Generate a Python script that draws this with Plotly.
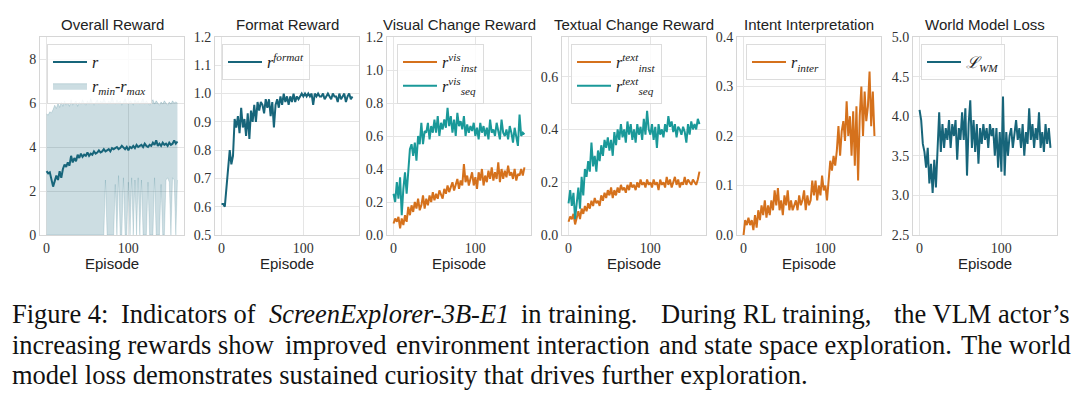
import plotly.graph_objects as go

# ---------------- data (episodes sampled every 2) ----------------
r_mean = [2.90, 2.80, 2.85, 2.50, 2.20, 2.45, 2.70, 2.50, 2.90, 2.60,
          3.00, 3.20, 3.10, 3.30, 3.15, 3.60, 3.30, 3.50, 3.35, 3.65,
          3.50, 3.70, 3.55, 3.65, 3.60, 3.75, 3.60, 3.70, 3.65, 3.80,
          3.70, 3.75, 3.85, 3.75, 3.80, 3.90, 3.80, 3.85, 3.90, 3.80,
          3.95, 3.90, 3.95, 4.00, 3.90, 3.95, 4.05, 3.95, 3.90, 4.00,
          3.85, 4.00, 3.95, 4.05, 3.95, 4.10, 4.00, 4.05, 4.10, 4.00,
          4.15, 4.05, 4.00, 4.10, 4.05, 4.20, 4.10, 4.30, 4.05, 4.15,
          4.05, 4.20, 4.10, 4.15, 4.05, 4.20, 4.10, 4.15, 4.30, 4.15,
          4.25]
r_max = [5.50, 5.45, 5.60, 5.55, 5.70, 5.90, 5.75, 6.00, 5.80, 6.05,
         5.85, 6.10, 5.90, 6.00, 5.85, 6.15, 5.90, 6.00, 6.10, 5.85,
         6.05, 5.95, 6.15, 6.00, 5.90, 6.10, 5.95, 6.20, 6.00, 5.90,
         6.05, 6.15, 5.95, 6.10, 6.00, 6.20, 6.05, 5.95, 6.10, 6.00,
         6.30, 6.05, 5.95, 6.15, 6.00, 6.10, 5.90, 6.05, 6.20, 6.00,
         5.95, 6.10, 6.05, 5.90, 6.15, 6.00, 6.10, 5.95, 6.05, 6.20,
         5.95, 6.10, 6.00, 5.90, 6.05, 6.15, 5.95, 6.10, 6.00, 5.90,
         6.05, 5.95, 6.10, 6.00, 5.90, 6.05, 5.95, 6.10, 6.00, 6.05,
         6.00]
r_min = [0, 0, 0, 0, 0, 0, 0, 0, 0, 0,
         0, 0, 0, 0, 0, 0, 0, 0, 0, 0,
         0, 0, 0, 0, 0, 0, 0, 0, 0, 0,
         0, 0, 0, 0, 0, 0, 2.5, 0, 0, 0,
         0, 0, 2.3, 0, 2.7, 0, 0, 2.6, 0, 0,
         2.4, 0, 2.6, 0, 2.5, 0, 2.6, 0, 2.5, 0,
         0, 0, 2.4, 0, 0, 0, 2.6, 0, 0, 0,
         2.3, 0, 0, 2.5, 2.6, 2.4, 0, 2.6, 2.5, 0,
         2.5]
r_format = [0.61, 0.61, 0.60, 0.66, 0.72, 0.80, 0.75, 0.78, 0.91, 0.88,
            0.92, 0.86, 0.95, 0.88, 0.91, 0.85, 0.93, 0.84, 0.94, 0.90,
            0.96, 0.90, 0.97, 0.94, 0.97, 0.96, 0.93, 0.98, 0.95, 0.98,
            0.92, 0.97, 0.88, 0.96, 0.98, 0.95, 0.99, 0.96, 1.00, 0.97,
            0.99, 0.96, 0.99, 0.97, 1.00, 0.97, 0.99, 0.98, 0.99, 1.00,
            0.99, 1.00, 0.99, 1.00, 0.99, 1.00, 0.96, 1.00, 0.99, 1.00,
            0.99, 0.99, 1.00, 0.98, 0.99, 1.00, 0.99, 0.98, 1.00, 0.99,
            0.99, 0.97, 1.00, 0.98, 0.99, 1.00, 0.97, 0.99, 1.00, 0.98,
            0.99]
vis_seq = [0.25, 0.20, 0.32, 0.22, 0.35, 0.12, 0.28, 0.38, 0.25, 0.42,
           0.52, 0.55, 0.48, 0.56, 0.45, 0.60, 0.55, 0.68, 0.55, 0.63,
           0.62, 0.68, 0.58, 0.66, 0.62, 0.70, 0.62, 0.72, 0.60, 0.68,
           0.64, 0.70, 0.65, 0.77, 0.66, 0.72, 0.62, 0.70, 0.60, 0.74,
           0.66, 0.69, 0.64, 0.72, 0.60, 0.67, 0.62, 0.66, 0.63, 0.68,
           0.60, 0.65, 0.58, 0.68, 0.62, 0.66, 0.60, 0.65, 0.58, 0.70,
           0.62, 0.64, 0.60, 0.68, 0.62, 0.58, 0.70, 0.62, 0.60, 0.64,
           0.58, 0.66, 0.62, 0.56, 0.65, 0.60, 0.54, 0.73, 0.60, 0.62,
           0.61]
vis_inst = [0.07, 0.10, 0.08, 0.11, 0.04, 0.10, 0.06, 0.12, 0.08, 0.17,
            0.12, 0.18, 0.14, 0.20, 0.16, 0.22, 0.15, 0.18, 0.24, 0.16,
            0.22, 0.18, 0.24, 0.20, 0.26, 0.21, 0.25, 0.22, 0.27, 0.24,
            0.22, 0.28, 0.25, 0.30, 0.26, 0.29, 0.32, 0.27, 0.30, 0.34,
            0.28, 0.33, 0.30, 0.43, 0.32, 0.36, 0.30, 0.34, 0.38, 0.30,
            0.35, 0.28, 0.38, 0.33, 0.40, 0.30, 0.36, 0.32, 0.39, 0.34,
            0.41, 0.33, 0.38, 0.34, 0.44, 0.32, 0.40, 0.34, 0.39, 0.35,
            0.42, 0.36, 0.38, 0.34, 0.40, 0.33, 0.37, 0.36, 0.40, 0.36,
            0.41]
txt_seq = [0.12, 0.17, 0.11, 0.16, 0.06, 0.12, 0.18, 0.10, 0.22, 0.15,
           0.25, 0.22, 0.28, 0.24, 0.35, 0.26, 0.30, 0.24, 0.32, 0.28,
           0.34, 0.30, 0.36, 0.33, 0.37, 0.32, 0.36, 0.30, 0.39, 0.34,
           0.40, 0.36, 0.42, 0.37, 0.40, 0.35, 0.43, 0.38, 0.42, 0.36,
           0.40, 0.35, 0.42, 0.38, 0.41, 0.36, 0.44, 0.38, 0.47, 0.40,
           0.38, 0.42, 0.36, 0.41, 0.33, 0.42, 0.38, 0.40, 0.37, 0.42,
           0.39, 0.45, 0.41, 0.43, 0.39, 0.42, 0.37, 0.41, 0.40, 0.38,
           0.41, 0.39, 0.35, 0.42, 0.38, 0.43, 0.40, 0.42, 0.40, 0.44,
           0.42]
txt_inst = [0.05, 0.07, 0.06, 0.08, 0.04, 0.07, 0.09, 0.06, 0.10, 0.08,
            0.11, 0.09, 0.12, 0.10, 0.13, 0.11, 0.14, 0.12, 0.13, 0.11,
            0.15, 0.13, 0.16, 0.14, 0.17, 0.15, 0.18, 0.14, 0.17, 0.15,
            0.18, 0.16, 0.19, 0.17, 0.18, 0.16, 0.19, 0.17, 0.20, 0.18,
            0.19, 0.17, 0.20, 0.18, 0.21, 0.19, 0.20, 0.18, 0.21, 0.19,
            0.20, 0.18, 0.21, 0.19, 0.20, 0.17, 0.21, 0.19, 0.20, 0.18,
            0.22, 0.19, 0.21, 0.18, 0.20, 0.22, 0.19, 0.21, 0.18, 0.20,
            0.19, 0.22, 0.19, 0.21, 0.20, 0.19, 0.21, 0.20, 0.19, 0.21,
            0.24]
r_inter = [0.00, 0.03, 0.02, 0.035, 0.02, 0.03, 0.01, 0.04, 0.015, 0.05,
           0.03, 0.06, 0.04, 0.07, 0.035, 0.06, 0.04, 0.07, 0.05, 0.09,
           0.06, 0.095, 0.05, 0.07, 0.04, 0.08, 0.06, 0.09, 0.05, 0.07,
           0.05, 0.06, 0.07, 0.05, 0.08, 0.06, 0.07, 0.09, 0.05, 0.08,
           0.06, 0.07, 0.11, 0.08, 0.11, 0.07, 0.10, 0.08, 0.12, 0.09,
           0.10, 0.07, 0.12, 0.15, 0.13, 0.16, 0.14, 0.17, 0.22, 0.16,
           0.21, 0.23, 0.19, 0.27, 0.20, 0.24, 0.16, 0.25, 0.14, 0.26,
           0.11, 0.24, 0.30, 0.20, 0.29, 0.23, 0.26, 0.33, 0.22, 0.29,
           0.20]
wm_loss = [4.08, 3.95, 3.65, 3.55, 3.35, 3.60, 3.15, 3.40, 3.03, 3.45,
           3.10, 3.60, 4.05, 3.55, 3.90, 3.60, 3.85, 3.70, 3.95, 3.60,
           3.90, 3.75, 3.95, 3.45, 3.85, 3.70, 4.05, 3.70, 4.10, 3.25,
           3.90, 4.20, 3.60, 3.95, 3.55, 3.90, 3.40, 3.85, 3.65, 3.90,
           3.70, 3.85, 3.60, 3.90, 3.75, 3.85, 3.50, 3.85, 3.35, 3.80,
           3.30, 4.25, 3.25, 3.80, 3.50, 3.75, 3.85, 3.60, 3.80, 3.95,
           3.70, 3.85, 3.60, 3.90, 3.50, 3.80, 3.65, 4.10, 3.70, 3.90,
           3.60, 3.85, 3.70, 4.05, 3.60, 3.80, 3.55, 3.90, 3.65, 3.85,
           3.60]
episodes = [2 * i for i in range(len(r_mean))]

titles = ["Overall Reward", "Format Reward", "Visual Change Reward",
          "Textual Change Reward", "Intent Interpretation", "World Model Loss"]
y_ranges = [[0, 9], [0.5, 1.2], [0, 1.2], [0, 0.75], [0, 0.4], [2.5, 5.0]]
y_ticks = [[0, 2, 4, 6, 8],
           [0.5, 0.6, 0.7, 0.8, 0.9, 1.0, 1.1, 1.2],
           [0.0, 0.2, 0.4, 0.6, 0.8, 1.0, 1.2],
           [0.0, 0.2, 0.4, 0.6],
           [0.0, 0.1, 0.2, 0.3, 0.4],
           [2.5, 3.0, 3.5, 4.0, 4.5, 5.0]]
y_fmt = ["d", ".1f", ".1f", ".1f", ".1f", ".1f"]
x_ticks = [0, 100]

# caption: each line split into word groups (justified text)
caption_lines = [
    ["Figure 4:", "Indicators of", "<i>ScreenExplorer-3B-E1</i>", "in training.",
     "During RL training,", "the VLM actor’s"],
    ["increasing rewards show", "improved", "environment interaction",
     "and state space exploration.", "The world"],
    ["model loss demonstrates sustained curiosity that drives further exploration."],
]
# left x of each group (last group of full lines is right-aligned at this x)
caption_x = [[10, 119, 267, 519, 659, 1072],
             [10, 283, 394, 657, 1073],
             [10]]

# ---------------- style ----------------
W, H = 1080, 399
DARK = "#17657a"
TEAL = "#1a9999"
ORANGE = "#d5711c"
panel_left = [40, 215, 387, 562, 737, 913]
panel_w = 144
top_px, bot_px = 37, 235

fig = go.Figure()

def ax(i):
    return ("x" if i == 0 else f"x{i+1}", "y" if i == 0 else f"y{i+1}")

def lg(i):
    return "legend" if i == 0 else f"legend{i+1}"

LW = 2.0
# Panel 1
xa, ya = ax(0)
fig.add_trace(go.Scatter(x=episodes, y=r_min, mode="lines", xaxis=xa, yaxis=ya,
                         line=dict(color="rgba(23,101,122,0.25)", width=0.6),
                         showlegend=False, hoverinfo="skip"))
fig.add_trace(go.Scatter(x=episodes, y=r_max, mode="lines", xaxis=xa, yaxis=ya,
                         fill="tonexty", fillcolor="rgba(23,101,122,0.22)",
                         line=dict(color="rgba(23,101,122,0.3)", width=0.6),
                         name="<i>r<sub>min</sub></i>-<i>r<sub>max</sub></i>", legend=lg(0),
                         legendrank=2))
fig.add_trace(go.Scatter(x=episodes, y=r_mean, mode="lines", xaxis=xa, yaxis=ya,
                         line=dict(color=DARK, width=LW), name="<i>r</i>", legend=lg(0),
                         legendrank=1))
# Panel 2
xa, ya = ax(1)
fig.add_trace(go.Scatter(x=episodes, y=r_format, mode="lines", xaxis=xa, yaxis=ya,
                         line=dict(color=DARK, width=LW), name="<i>r<sup>format</sup></i>",
                         legend=lg(1)))
# Panel 3
xa, ya = ax(2)
fig.add_trace(go.Scatter(x=episodes, y=vis_inst, mode="lines", xaxis=xa, yaxis=ya,
                         line=dict(color=ORANGE, width=LW),
                         name="<i>r<sup>vis</sup><sub>inst</sub></i>", legend=lg(2), legendrank=1))
fig.add_trace(go.Scatter(x=episodes, y=vis_seq, mode="lines", xaxis=xa, yaxis=ya,
                         line=dict(color=TEAL, width=LW),
                         name="<i>r<sup>vis</sup><sub>seq</sub></i>", legend=lg(2), legendrank=2))
# Panel 4
xa, ya = ax(3)
fig.add_trace(go.Scatter(x=episodes, y=txt_inst, mode="lines", xaxis=xa, yaxis=ya,
                         line=dict(color=ORANGE, width=LW),
                         name="<i>r<sup>text</sup><sub>inst</sub></i>", legend=lg(3), legendrank=1))
fig.add_trace(go.Scatter(x=episodes, y=txt_seq, mode="lines", xaxis=xa, yaxis=ya,
                         line=dict(color=TEAL, width=LW),
                         name="<i>r<sup>text</sup><sub>seq</sub></i>", legend=lg(3), legendrank=2))
# Panel 5
xa, ya = ax(4)
fig.add_trace(go.Scatter(x=episodes, y=r_inter, mode="lines", xaxis=xa, yaxis=ya,
                         line=dict(color=ORANGE, width=LW),
                         name="<i>r<sub>inter</sub></i>", legend=lg(4)))
# Panel 6
xa, ya = ax(5)
fig.add_trace(go.Scatter(x=episodes, y=wm_loss, mode="lines", xaxis=xa, yaxis=ya,
                         line=dict(color=DARK, width=LW),
                         name="<i>ℒ<sub>WM</sub></i>", legend=lg(5)))

layout = dict(width=W, height=H, margin=dict(l=0, r=0, t=0, b=0, autoexpand=False),
              paper_bgcolor="white", plot_bgcolor="white", annotations=[])

legend_pos = [(47, 44), (222, 44), (397, 44), (571, 44), (746, 44), (921, 44)]
for i in range(6):
    xk = "xaxis" if i == 0 else f"xaxis{i+1}"
    yk = "yaxis" if i == 0 else f"yaxis{i+1}"
    x0 = panel_left[i] / W
    x1 = (panel_left[i] + panel_w) / W
    common = dict(showgrid=True, gridcolor="#e5e5e5", gridwidth=1,
                  showline=True, linecolor="#d6d6d6", linewidth=1, mirror=True,
                  zeroline=False, ticks="", automargin=False,
                  tickfont=dict(family="Liberation Serif", size=14, color="#333"))
    layout[xk] = dict(domain=[x0, x1], anchor=ax(i)[1], range=[-8, 168],
                      tickvals=x_ticks, **common)
    layout[yk] = dict(domain=[1 - bot_px / H, 1 - top_px / H], anchor=ax(i)[0],
                      range=y_ranges[i], tickvals=y_ticks[i], tickformat=y_fmt[i], **common)
    lx, ly = legend_pos[i]
    layout[lg(i)] = dict(x=lx / W, y=1 - ly / H, xanchor="left", yanchor="top",
                         xref="paper", yref="paper", traceorder="normal",
                         bgcolor="rgba(255,255,255,0.85)", bordercolor="#dcdcdc", borderwidth=1,
                         font=dict(family="Liberation Serif", size=16, color="#222"),
                         itemwidth=34, tracegroupgap=2)
    cx = (panel_left[i] + panel_w / 2) / W
    layout["annotations"].append(dict(x=cx, y=1 - 25 / H, xref="paper", yref="paper",
                                      text=titles[i], showarrow=False, xanchor="center",
                                      yanchor="middle",
                                      font=dict(family="Liberation Sans", size=15, color="#222")))
    layout["annotations"].append(dict(x=cx, y=1 - 263 / H, xref="paper", yref="paper",
                                      text="Episode", showarrow=False, xanchor="center",
                                      yanchor="middle",
                                      font=dict(family="Liberation Sans", size=15, color="#222")))

cap_y = [314, 345, 375]
cap_font = dict(family="Liberation Serif", size=26.5, color="#111")
for groups, xs, yy in zip(caption_lines, caption_x, cap_y):
    n = len(groups)
    for j, (g, gx) in enumerate(zip(groups, xs)):
        anchor = "right" if (n > 1 and j == n - 1) else "left"
        layout["annotations"].append(dict(x=gx / W, y=1 - yy / H, xref="paper", yref="paper",
                                          text=g, showarrow=False, xanchor=anchor,
                                          yanchor="middle", font=cap_font))

fig.update_layout(**layout)
fig.write_html("out.html", config={"displayModeBar": False},
               post_script="document.body.style.margin='0';document.body.style.padding='0';")
